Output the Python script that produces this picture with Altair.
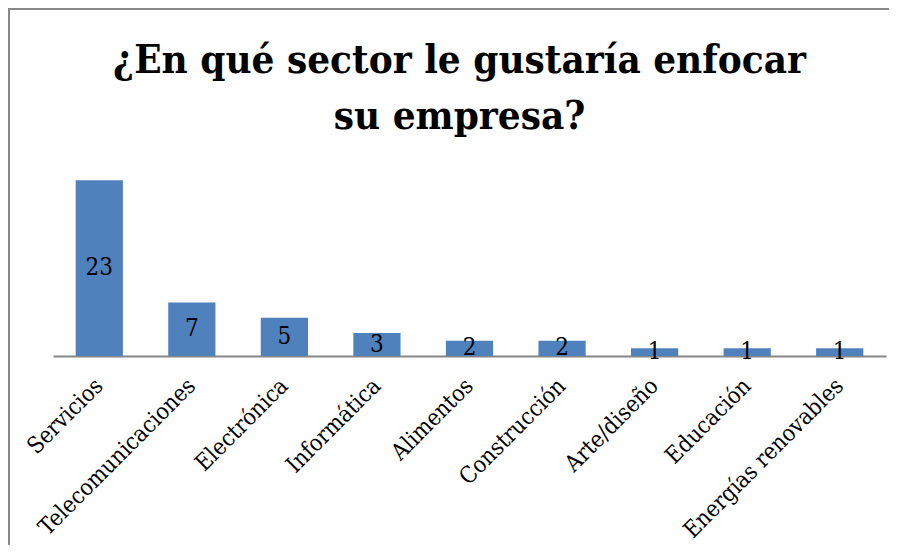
import altair as alt
import pandas as pd

categories = ["Servicios", "Telecomunicaciones", "Electrónica", "Informática",
              "Alimentos", "Construcción", "Arte/diseño", "Educación",
              "Energías renovables"]
values = [23, 7, 5, 3, 2, 2, 1, 1, 1]
title_lines = ["¿En qué sector le gustaría enfocar", "su empresa?"]

df = pd.DataFrame({"sector": categories, "n": values})
df["half"] = df["n"] / 2

SERIF = "DejaVu Serif Condensed, DejaVu Serif, serif"

x = alt.X("sector:N", sort=categories, title=None,
          scale=alt.Scale(paddingInner=0.49, paddingOuter=0.245),
          axis=alt.Axis(labelAngle=-45, labelAlign="right", labelBaseline="middle",
                        labelFont=SERIF, labelFontSize=23, labelColor="black",
                        labelPadding=26, ticks=False, domainColor="#868686",
                        domainWidth=2, labelOverlap=False, labelLimit=400))
y = alt.Y("n:Q", scale=alt.Scale(domain=[0, 25], nice=False), axis=None)

bars = alt.Chart(df).mark_bar(color="#4F81BD").encode(x=x, y=y)
labels = alt.Chart(df).mark_text(font=SERIF, fontSize=24, color="black",
                                 baseline="middle").encode(
    x=alt.X("sector:N", sort=categories), y=alt.Y("half:Q"), text="n:Q")

border_top = alt.Chart(df).mark_rule(color="#898989", strokeWidth=2).encode(
    x=alt.value(-46), x2=alt.value(840), y=alt.value(-156))
border_left = alt.Chart(df).mark_rule(color="#898989", strokeWidth=2).encode(
    x=alt.value(-44), y=alt.value(-156), y2=alt.value(380))

chart = alt.layer(bars, labels, border_top, border_left).properties(
    width=833, height=191,
    title=alt.TitleParams(text=title_lines, font=SERIF, fontSize=40,
                          fontWeight="bold", color="black", anchor="middle",
                          lineHeight=56, offset=0, dy=129, dx=-10),
    autosize=alt.AutoSizeParams(type="none"),
    padding={"left": 45, "top": 157, "right": 3, "bottom": 193},
).configure_view(stroke=None)

chart.save("out.html", embed_options={"renderer": "svg", "actions": False})
